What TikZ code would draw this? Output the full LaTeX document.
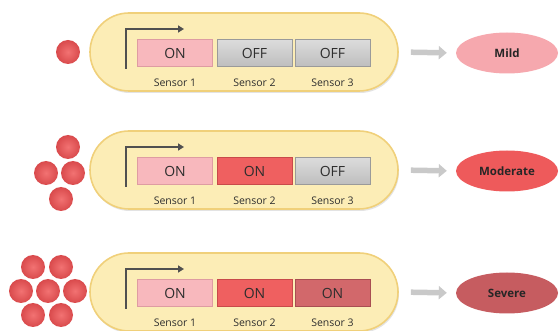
\documentclass[tikz,border=0pt]{standalone}
\usepackage{fontspec}
\setmainfont{Open Sans}
\usetikzlibrary{arrows.meta,shapes.geometric,shadows}
\definecolor{pillfill}{HTML}{FCEDB6}
\definecolor{pilledge}{HTML}{F0D07A}
\definecolor{onA}{HTML}{F8B8BD}
\definecolor{onAe}{HTML}{DE9CA2}
\definecolor{onB}{HTML}{EF6060}
\definecolor{onBe}{HTML}{C84A4A}
\definecolor{onC}{HTML}{D2686B}
\definecolor{onCe}{HTML}{A84E52}
\definecolor{offT}{HTML}{DCDCDC}
\definecolor{offB}{HTML}{BEBEBE}
\definecolor{offE}{HTML}{9A9A9A}
\definecolor{mildc}{HTML}{F6A8AE}
\definecolor{modc}{HTML}{EE5A5B}
\definecolor{sevc}{HTML}{C65C60}
\definecolor{dotin}{HTML}{F27272}
\definecolor{dotout}{HTML}{D94A4C}
\definecolor{txt}{HTML}{2E2E2E}
\definecolor{brk}{HTML}{505050}
\definecolor{garr}{HTML}{C9C9C9}
\tikzset{
  pill/.style={draw=pilledge, line width=1.6pt, fill=pillfill, rounded corners=39pt,
    minimum width=308pt, minimum height=78pt, inner sep=0pt,
    drop shadow={shadow xshift=1pt, shadow yshift=-2pt, opacity=0.22, fill=gray}},
  btn/.style={rectangle, minimum width=75pt, minimum height=27pt, inner sep=0pt,
    text=txt, font=\fontsize{14}{16}\selectfont, line width=0.8pt},
  onAbtn/.style={btn, fill=onA, draw=onAe},
  onBbtn/.style={btn, fill=onB, draw=onBe},
  onCbtn/.style={btn, fill=onC, draw=onCe},
  offbtn/.style={btn, top color=offT, bottom color=offB, draw=offE},
  slabel/.style={text=txt, font=\fontsize{10.5}{12}\selectfont, inner sep=0pt},
  bracket/.style={draw=brk, line width=1.6pt, -{Triangle[length=6pt,width=7pt]}},
  garrow/.style={draw=garr, line width=5.5pt, -{Triangle[length=8pt,width=13pt]},
    shorten <=12pt, shorten >=9pt},
  sev/.style={ellipse, minimum width=102pt, minimum height=41pt, inner sep=0pt,
    font=\bfseries\fontsize{11.5}{13}\selectfont, text=black!85},
  dot/.style={circle, minimum size=24pt, inner sep=0pt, inner color=dotin, outer color=dotout}
}
\begin{document}
\begin{tikzpicture}[x=1pt,y=-1pt]
\useasboundingbox (0,0) rectangle (560,331);
\foreach \c/\n/\sb/\tb/\sc/\tc/\ec/\el in {
  52/1/offbtn/OFF/offbtn/OFF/mildc/Mild,
  170/2/onBbtn/ON/offbtn/OFF/modc/Moderate,
  292/3/onBbtn/ON/onCbtn/ON/sevc/Severe}{
  \node[pill] (pill\n) at (244,\c) {};
  \node[onAbtn] (sa\n) at (175,\c+1) {ON};
  \node[\sb] (sb\n) at (254.5,\c+1) {\tb};
  \node[\sc] (sc\n) at (332.5,\c+1) {\tc};
  \node[slabel] (la\n) at (175,\c+31) {Sensor 1};
  \node[slabel] (lb\n) at (254.5,\c+31) {Sensor 2};
  \node[slabel] (lc\n) at (332.5,\c+31) {Sensor 3};
  \coordinate (bs\n) at (126,\c+17);
  \coordinate (be\n) at (184,\c-23);
  \draw[bracket] (bs\n) |- (be\n);
  \node[sev, fill=\ec] (sev\n) at (507,\c+1) {\el};
  \draw[garrow] (pill\n.east) -- (sev\n.west);
}
% dots
\node[dot] (d11) at (68,52) {};
\node[dot] (d21) at (68,147) {};
\node[dot] (d22) at (46,173) {};
\node[dot] (d23) at (73,173) {};
\node[dot] (d24) at (61,199) {};
\node[dot] (d31) at (33,267) {};
\node[dot] (d32) at (61,267) {};
\node[dot] (d33) at (21,291) {};
\node[dot] (d34) at (48,291) {};
\node[dot] (d35) at (75,291) {};
\node[dot] (d36) at (33,315) {};
\node[dot] (d37) at (61,315) {};
\end{tikzpicture}
\end{document}
